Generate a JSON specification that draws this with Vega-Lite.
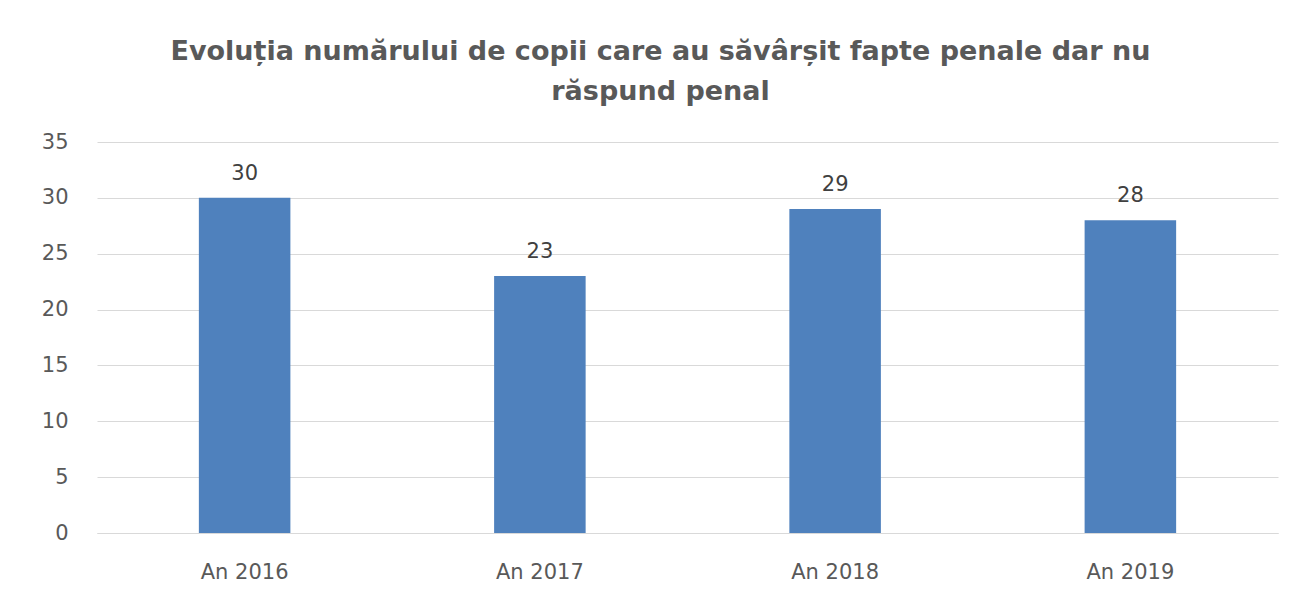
{
  "$schema": "https://vega.github.io/schema/vega-lite/v6.json",
  "autosize": {"type": "none"},
  "padding": {"left": 97, "top": 142, "right": 24, "bottom": 75},
  "width": 1181,
  "height": 391,
  "background": "white",
  "title": {
    "text": ["Evoluția numărului de  copii care au săvârșit fapte penale dar nu", "răspund penal"],
    "font": "DejaVu Sans",
    "fontSize": 27,
    "fontWeight": "bold",
    "color": "#595959",
    "lineHeight": 40,
    "anchor": "middle",
    "dx": -27,
    "offset": 25
  },
  "data": {
    "values": [
      {"year": "An 2016", "value": 30},
      {"year": "An 2017", "value": 23},
      {"year": "An 2018", "value": 29},
      {"year": "An 2019", "value": 28}
    ]
  },
  "config": {"view": {"stroke": null}},
  "encoding": {
    "x": {
      "field": "year", "type": "nominal", "sort": null, "title": null,
      "scale": {"paddingInner": 0.69, "paddingOuter": 0.345},
      "axis": {"labelAngle": 0, "ticks": false, "domain": true, "domainColor": "#d9d9d9", "labelFont": "DejaVu Sans", "labelFontSize": 21, "labelColor": "#595959", "labelPadding": 28}
    },
    "y": {
      "field": "value", "type": "quantitative", "title": null,
      "scale": {"domain": [0, 35], "nice": false},
      "axis": {"values": [0, 5, 10, 15, 20, 25, 30, 35], "ticks": false, "domain": false, "gridColor": "#d9d9d9", "labelFont": "DejaVu Sans", "labelFontSize": 21, "labelColor": "#595959", "labelPadding": 29}
    }
  },
  "layer": [
    {"mark": {"type": "bar", "color": "#4f81bd"}},
    {"mark": {"type": "text", "font": "DejaVu Sans", "fontSize": 21, "color": "#404040", "baseline": "bottom", "dy": -14}, "encoding": {"text": {"field": "value"}}}
  ]
}
